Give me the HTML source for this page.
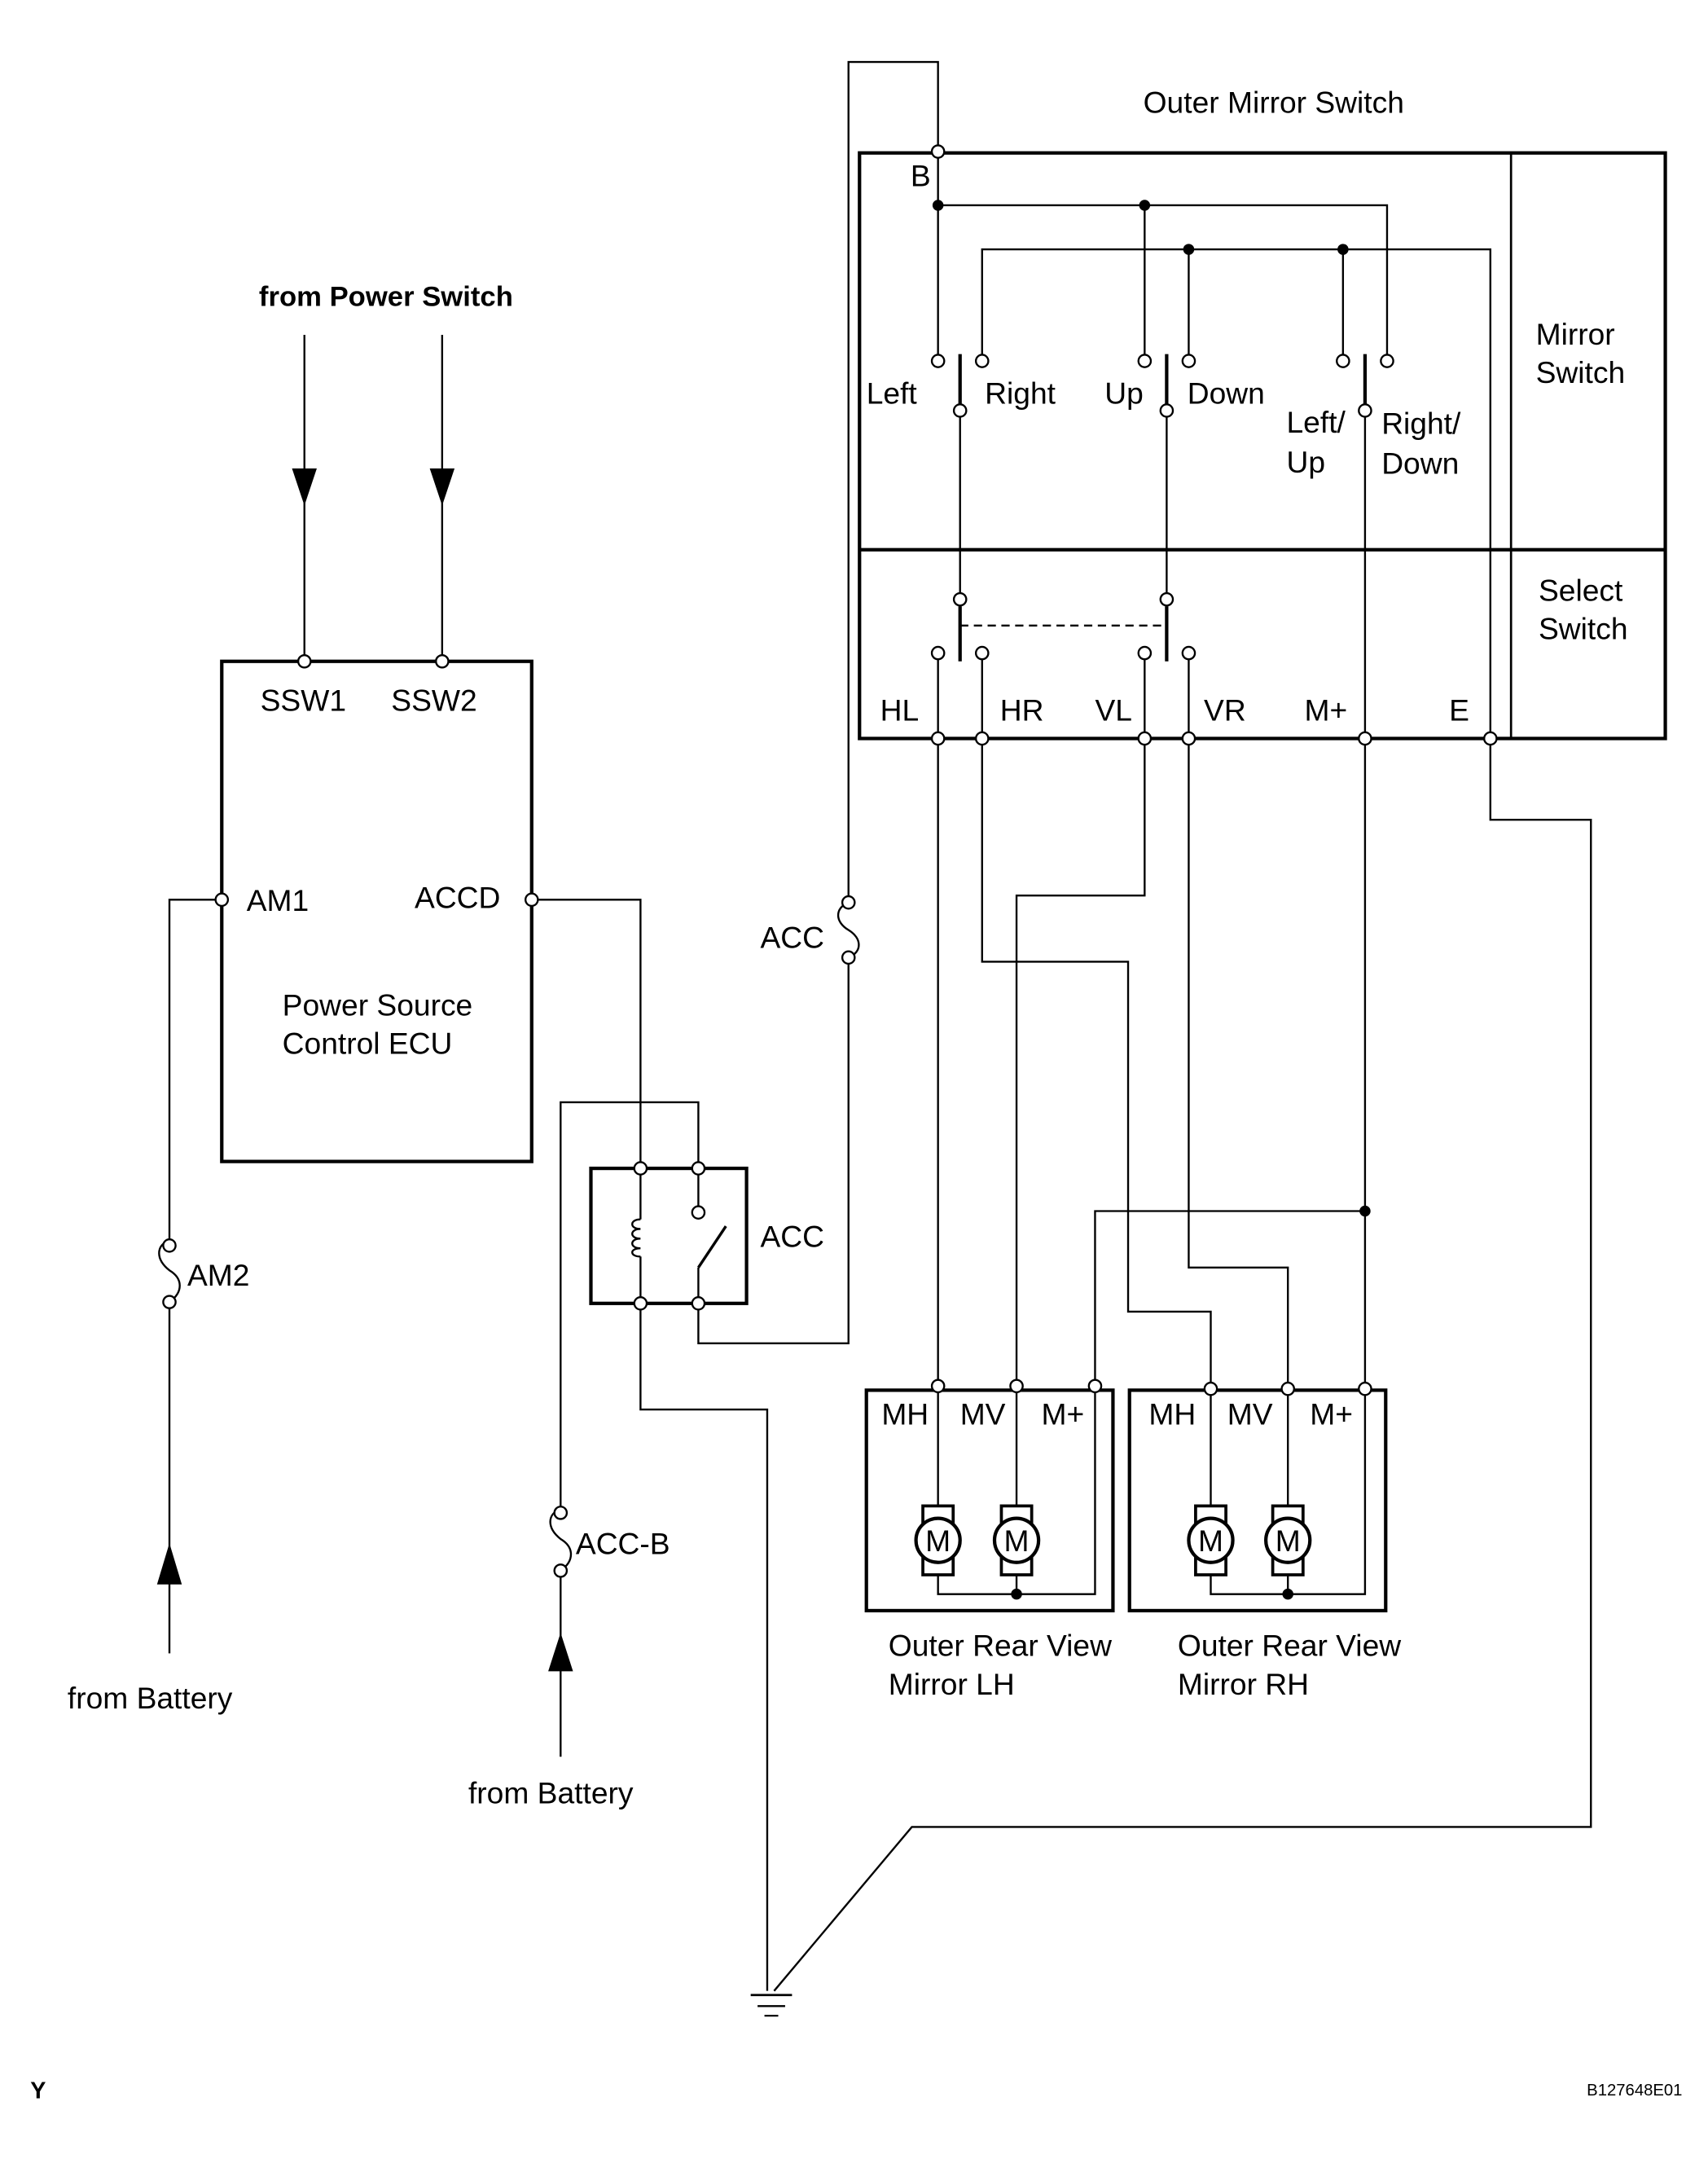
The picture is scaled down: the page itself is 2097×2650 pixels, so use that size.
<!DOCTYPE html>
<html><head><meta charset="utf-8"><style>
html,body{margin:0;padding:0;background:#fff}
svg{display:block}
text{font-family:"Liberation Sans",sans-serif;font-size:22px;fill:#000}
</style></head><body>
<svg width="2097" height="2650" viewBox="0 0 1240 1567" xmlns="http://www.w3.org/2000/svg">
<g fill="none" stroke="#000" stroke-width="1.4">
<rect x="624" y="111" width="585" height="425" stroke-width="2.5"/>
<line x1="624" y1="399" x2="1209" y2="399" stroke-width="2.5"/>
<line x1="1097" y1="111" x2="1097" y2="536" stroke-width="1.6"/>
<polyline points="616,655 616,45 681,45 681,110"/>
<line x1="681" y1="110" x2="681" y2="258"/>
<polyline points="681,149 1007,149 1007,258"/>
<line x1="831" y1="149" x2="831" y2="258"/>
<polyline points="713,258 713,181 1082,181 1082,536"/>
<line x1="863" y1="181" x2="863" y2="258"/>
<line x1="975" y1="181" x2="975" y2="258"/>
<line x1="697" y1="257" x2="697" y2="294" stroke-width="2.5"/>
<line x1="847" y1="257" x2="847" y2="294" stroke-width="2.5"/>
<line x1="991" y1="257" x2="991" y2="294" stroke-width="2.5"/>
<line x1="697" y1="302" x2="697" y2="431"/>
<line x1="847" y1="302" x2="847" y2="431"/>
<line x1="991" y1="302" x2="991" y2="536"/>
<line x1="697" y1="440" x2="697" y2="480" stroke-width="2.5"/>
<line x1="847" y1="440" x2="847" y2="480" stroke-width="2.5"/>
<line x1="697" y1="454" x2="847" y2="454" stroke-dasharray="6,4"/>
<line x1="681" y1="478" x2="681" y2="536"/>
<line x1="713" y1="478" x2="713" y2="536"/>
<line x1="831" y1="478" x2="831" y2="536"/>
<line x1="863" y1="478" x2="863" y2="536"/>
<line x1="681" y1="536" x2="681" y2="1006"/>
<polyline points="713,536 713,698 819,698 819,952 879,952 879,1008"/>
<polyline points="831,536 831,650 738,650 738,1006"/>
<polyline points="863,536 863,920 935,920 935,1008"/>
<line x1="991" y1="536" x2="991" y2="1008"/>
<polyline points="991,879 795,879 795,1006"/>
<polyline points="1082,536 1082,595 1155,595 1155,1326 662,1326 562,1445"/>
<rect x="629" y="1009" width="179" height="160" stroke-width="2.5"/>
<rect x="820" y="1009" width="186" height="160" stroke-width="2.5"/>
<polyline points="681,1006 681,1157 795,1157 795,1006"/>
<line x1="738" y1="1006" x2="738" y2="1157"/>
<polyline points="879,1008 879,1157 991,1157 991,1008"/>
<line x1="935" y1="1008" x2="935" y2="1157"/>
<rect x="161" y="480" width="225" height="363" stroke-width="2.5"/>
<line x1="221" y1="243" x2="221" y2="480"/>
<line x1="321" y1="243" x2="321" y2="480"/>
<polyline points="161,653 123,653 123,900"/>
<line x1="123" y1="945" x2="123" y2="1200"/>
<polyline points="386,653 465,653 465,848"/>
<rect x="429" y="848" width="113" height="98" stroke-width="2.5"/>
<line x1="465" y1="848" x2="465" y2="885"/>
<line x1="465" y1="912" x2="465" y2="946"/>
<path d="M465,885 c-8,0 -8,7 0,7 c-8,0 -8,7 0,7 c-8,0 -8,7 0,7 c-8,0 -8,6 0,6"/>
<polyline points="407,1095 407,800 507,800 507,848"/>
<line x1="507" y1="848" x2="507" y2="876"/>
<line x1="507" y1="946" x2="507" y2="920"/>
<line x1="507" y1="920" x2="527" y2="890" stroke-width="2"/>
<polyline points="465,946 465,1023 557,1023 557,1445"/>
<polyline points="507,946 507,975 616,975 616,695"/>
<line x1="407" y1="1140" x2="407" y2="1275"/>
<path d="M616,655 c-10,4 -10,14 0,20 c10,6 10,16 0,20"/>
<path d="M123,900 c-10,4 -10,14 0,22 c10,6 10,16 0,23"/>
<path d="M407,1095 c-10,4 -10,14 0,22 c10,6 10,16 0,23"/>
<line x1="545" y1="1448" x2="575" y2="1448" stroke-width="1.6"/>
<line x1="550" y1="1456" x2="570" y2="1456"/>
<line x1="555" y1="1463" x2="565" y2="1463"/>
</g>
<g fill="#fff" stroke="#000" stroke-width="2.2">
<rect x="670" y="1093" width="22" height="50"/><rect x="727" y="1093" width="22" height="50"/>
<rect x="868" y="1093" width="22" height="50"/><rect x="924" y="1093" width="22" height="50"/>
</g>
<g fill="#fff" stroke="#000" stroke-width="2.5">
<circle cx="681" cy="1118" r="16"/><circle cx="738" cy="1118" r="16"/>
<circle cx="879" cy="1118" r="16"/><circle cx="935" cy="1118" r="16"/>
</g>
<g style="font-size:23px" text-anchor="middle"><text x="681" y="1126">M</text><text x="738" y="1126">M</text><text x="879" y="1126">M</text><text x="935" y="1126">M</text></g>
<g fill="#000">
<polygon points="212,340 230,340 221,367"/>
<polygon points="312,340 330,340 321,367"/>
<polygon points="114,1150 132,1150 123,1120"/>
<polygon points="398,1213 416,1213 407,1185"/>
</g>
<g fill="#000">
<circle cx="681" cy="149" r="4"/><circle cx="831" cy="149" r="4"/>
<circle cx="863" cy="181" r="4"/><circle cx="975" cy="181" r="4"/>
<circle cx="991" cy="879" r="4"/><circle cx="738" cy="1157" r="4"/><circle cx="935" cy="1157" r="4"/>
</g>
<g fill="#fff" stroke="#000" stroke-width="1.4">
<circle cx="681" cy="110" r="4.5"/>
<circle cx="681" cy="262" r="4.5"/><circle cx="713" cy="262" r="4.5"/><circle cx="831" cy="262" r="4.5"/><circle cx="863" cy="262" r="4.5"/><circle cx="975" cy="262" r="4.5"/><circle cx="1007" cy="262" r="4.5"/>
<circle cx="697" cy="298" r="4.5"/><circle cx="847" cy="298" r="4.5"/><circle cx="991" cy="298" r="4.5"/>
<circle cx="697" cy="435" r="4.5"/><circle cx="847" cy="435" r="4.5"/>
<circle cx="681" cy="474" r="4.5"/><circle cx="713" cy="474" r="4.5"/><circle cx="831" cy="474" r="4.5"/><circle cx="863" cy="474" r="4.5"/>
<circle cx="681" cy="536" r="4.5"/><circle cx="713" cy="536" r="4.5"/><circle cx="831" cy="536" r="4.5"/><circle cx="863" cy="536" r="4.5"/><circle cx="991" cy="536" r="4.5"/><circle cx="1082" cy="536" r="4.5"/>
<circle cx="681" cy="1006" r="4.5"/><circle cx="738" cy="1006" r="4.5"/><circle cx="795" cy="1006" r="4.5"/>
<circle cx="879" cy="1008" r="4.5"/><circle cx="935" cy="1008" r="4.5"/><circle cx="991" cy="1008" r="4.5"/>
<circle cx="221" cy="480" r="4.5"/><circle cx="321" cy="480" r="4.5"/><circle cx="161" cy="653" r="4.5"/><circle cx="386" cy="653" r="4.5"/>
<circle cx="465" cy="848" r="4.5"/><circle cx="507" cy="848" r="4.5"/><circle cx="507" cy="880" r="4.5"/><circle cx="465" cy="946" r="4.5"/><circle cx="507" cy="946" r="4.5"/>
<circle cx="616" cy="655" r="4.5"/><circle cx="616" cy="695" r="4.5"/>
<circle cx="123" cy="904" r="4.5"/><circle cx="123" cy="945" r="4.5"/>
<circle cx="407" cy="1098" r="4.5"/><circle cx="407" cy="1140" r="4.5"/>
</g>
<text x="830" y="82">Outer Mirror Switch</text>
<text x="661" y="135">B</text>
<text x="629" y="293">Left</text><text x="715" y="293">Right</text><text x="802" y="293">Up</text><text x="862" y="293">Down</text>
<text x="934" y="314">Left/</text><text x="934" y="343">Up</text>
<text x="1003" y="315">Right/</text><text x="1003" y="344">Down</text>
<text x="1115" y="250">Mirror</text><text x="1115" y="278">Switch</text>
<text x="1117" y="436">Select</text><text x="1117" y="464">Switch</text>
<text x="639" y="523">HL</text><text x="726" y="523">HR</text><text x="795" y="523">VL</text><text x="874" y="523">VR</text><text x="947" y="523">M+</text><text x="1052" y="523">E</text>
<text x="640" y="1034">MH</text><text x="697" y="1034">MV</text><text x="756" y="1034">M+</text>
<text x="834" y="1034">MH</text><text x="891" y="1034">MV</text><text x="951" y="1034">M+</text>
<text x="645" y="1202">Outer Rear View</text><text x="645" y="1230">Mirror LH</text>
<text x="855" y="1202">Outer Rear View</text><text x="855" y="1230">Mirror RH</text>
<text x="188" y="222" style="font-size:20.5px;font-weight:bold">from Power Switch</text>
<text x="189" y="516">SSW1</text><text x="284" y="516">SSW2</text>
<text x="179" y="661">AM1</text><text x="301" y="659">ACCD</text>
<text x="205" y="737">Power Source</text><text x="205" y="765">Control ECU</text>
<text x="136" y="933">AM2</text>
<text x="49" y="1240">from Battery</text>
<text x="552" y="688">ACC</text>
<text x="552" y="905">ACC</text>
<text x="418" y="1128">ACC-B</text>
<text x="340" y="1309">from Battery</text>
<text x="22" y="1523" style="font-size:17px;font-weight:bold">Y</text>
<text x="1152" y="1521" style="font-size:12px">B127648E01</text>
</svg>
</body></html>
